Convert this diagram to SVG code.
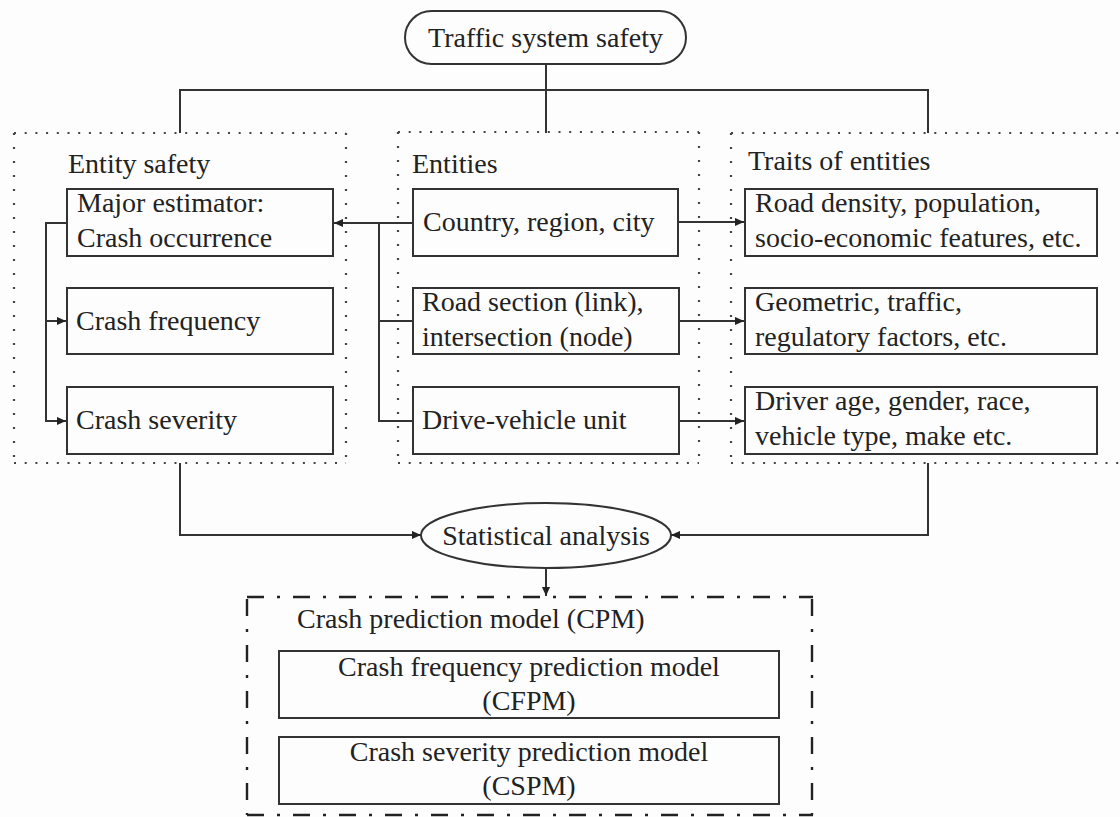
<svg xmlns="http://www.w3.org/2000/svg" width="1120" height="817" viewBox="0 0 1120 817">
  <defs>
    <style>
      text { font-family: "Liberation Serif", "Times New Roman", serif; font-size: 28px; fill: #222; }
      .mid { text-anchor: middle; }
      .box { fill: none; stroke: #333; stroke-width: 2; }
      .line { fill: none; stroke: #333; stroke-width: 2; }
      .dotH { stroke: #444; stroke-width: 2.2; stroke-dasharray: 2 8.7; fill: none; }
      .dotV { stroke: #444; stroke-width: 2.2; stroke-dasharray: 2 12; fill: none; }
      .dashdot { stroke: #222; stroke-width: 2.4; stroke-dasharray: 17 13 3 13; fill: none; }
    </style>
    <marker id="arrow" viewBox="0 0 10 10" refX="10" refY="5" markerWidth="9" markerHeight="9" markerUnits="userSpaceOnUse" orient="auto">
      <path d="M0,0.5 L10,5 L0,9.5 Z" fill="#222"/>
    </marker>
  </defs>
  <rect width="1120" height="817" fill="#fdfdfd"/>

  <!-- root -->
  <g id="traffic-system-safety">
    <rect x="405" y="11" width="281" height="53" rx="26.5" class="box"/>
    <text x="545.5" y="47" class="mid">Traffic system safety</text>
  </g>

  <!-- dotted group frames -->
  <g id="entity-safety">
    <path class="dotH" d="M14,133 H346 M14,463 H346"/>
    <path class="dotV" d="M14,133 V463 M346,133 V463"/>
    <text x="68" y="173">Entity safety</text>
  </g>
  <g id="entities">
    <path class="dotH" d="M398,132 H699 M398,463 H699"/>
    <path class="dotV" d="M398,132 V463 M699,132 V463"/>
    <text x="412" y="173">Entities</text>
  </g>
  <g id="traits-of-entities">
    <path class="dotH" d="M731,133 H1125 M731,463 H1125"/>
    <path class="dotV" d="M731,133 V463"/>
    <text x="748" y="170">Traits of entities</text>
  </g>

  <!-- entity safety boxes -->
  <g id="major-estimator">
    <rect x="67" y="189" width="266" height="67" class="box"/>
    <text x="77" y="212">Major estimator:</text>
    <text x="77" y="247">Crash occurrence</text>
  </g>
  <g id="crash-frequency">
    <rect x="67" y="288" width="266" height="66" class="box"/>
    <text x="76" y="330">Crash frequency</text>
  </g>
  <g id="crash-severity">
    <rect x="67" y="387" width="266" height="67" class="box"/>
    <text x="76" y="429">Crash severity</text>
  </g>

  <!-- entity boxes -->
  <g id="country">
    <rect x="413" y="189" width="265" height="67" class="box"/>
    <text x="423" y="231">Country, region, city</text>
  </g>
  <g id="road-section">
    <rect x="413" y="288" width="266" height="66" class="box"/>
    <text x="422" y="311">Road section (link),</text>
    <text x="422" y="346">intersection (node)</text>
  </g>
  <g id="drive-vehicle">
    <rect x="413" y="387" width="266" height="67" class="box"/>
    <text x="422" y="429">Drive-vehicle unit</text>
  </g>

  <!-- trait boxes -->
  <g id="road-density">
    <rect x="745" y="189" width="352" height="67" class="box"/>
    <text x="755" y="212">Road density, population,</text>
    <text x="755" y="247">socio-economic features, etc.</text>
  </g>
  <g id="geometric">
    <rect x="745" y="288" width="352" height="66" class="box"/>
    <text x="755" y="311">Geometric, traffic,</text>
    <text x="755" y="346">regulatory factors, etc.</text>
  </g>
  <g id="driver-age">
    <rect x="745" y="387" width="352" height="67" class="box"/>
    <text x="755" y="410">Driver age, gender, race,</text>
    <text x="755" y="445">vehicle type, make etc.</text>
  </g>

  <!-- analysis -->
  <g id="statistical-analysis">
    <ellipse cx="546" cy="535.5" rx="125" ry="32.5" class="box"/>
    <text x="546" y="545" class="mid">Statistical analysis</text>
  </g>

  <!-- model frame -->
  <g id="crash-prediction-model">
    <path class="dashdot" d="M247,597 H813 M247,815 H813"/>
    <path class="dashdot" d="M247,599 V815 M812,599 V815"/>
    <text x="297" y="628">Crash prediction model (CPM)</text>
  </g>
  <g id="cfpm">
    <rect x="279" y="651" width="500" height="67" class="box"/>
    <text x="529" y="676" class="mid">Crash frequency prediction model</text>
    <text x="529" y="710" class="mid">(CFPM)</text>
  </g>
  <g id="cspm">
    <rect x="279" y="737" width="500" height="67" class="box"/>
    <text x="529" y="761" class="mid">Crash severity prediction model</text>
    <text x="529" y="795" class="mid">(CSPM)</text>
  </g>

  <!-- connectors -->
  <g id="connectors">
    <path class="line" d="M546,64 V133"/>
    <path class="line" d="M180,133 V90 H928 V133"/>

    <path class="line" d="M413,223 H334" marker-end="url(#arrow)"/>
    <path class="line" d="M379,223 V421 H413"/>
    <path class="line" d="M379,321 H413"/>

    <path class="line" d="M67,223 H46 V421 H66" marker-end="url(#arrow)"/>
    <path class="line" d="M46,321 H66" marker-end="url(#arrow)"/>

    <path class="line" d="M678,222 H744" marker-end="url(#arrow)"/>
    <path class="line" d="M679,321 H744" marker-end="url(#arrow)"/>
    <path class="line" d="M679,421 H744" marker-end="url(#arrow)"/>

    <path class="line" d="M180,463 V535 H421" marker-end="url(#arrow)"/>
    <path class="line" d="M928,463 V535 H671" marker-end="url(#arrow)"/>
    <path class="line" d="M546,568 V596" marker-end="url(#arrow)"/>
  </g>
</svg>
